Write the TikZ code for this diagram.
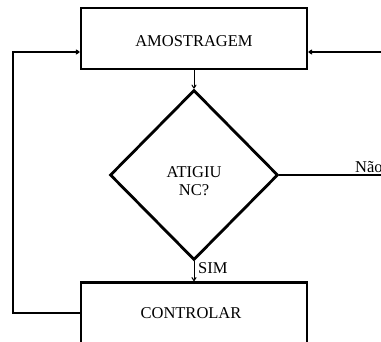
\documentclass[tikz,border=0pt]{standalone}
\usepackage{fontspec}
\setmainfont{Liberation Serif}
\usetikzlibrary{shapes.geometric,arrows.meta}
\begin{document}
\begin{tikzpicture}[x=1pt,y=-1pt,
  box/.style={draw,line width=2.8pt,minimum width=226pt,minimum height=61pt,inner sep=0pt},
  dec/.style={draw,diamond,line width=2.8pt,minimum width=168pt,minimum height=170pt,inner sep=0pt},
  conn/.style={line width=1pt,-{To[length=4pt,width=5pt]}},
  lab/.style={font=\fontsize{16.5}{18}\selectfont,inner sep=0pt}]
\useasboundingbox (0,0) rectangle (381,341);
\clip (0,0) rectangle (381,341);
\node[box] (amo) at (194,38.5) {};
\node[lab] (amot) at (194,41) {AMOSTRAGEM};
\node[dec] (dia) at (194,175) {};
\node[lab,align=center] (diat) at (194,181) {ATIGIU\\NC?};
\node[box] (ctl) at (194,313) {};
\node[lab] (ctlt) at (191,313) {CONTROLAR};
\coordinate (rin) at (390,52);
\coordinate (rout) at (390,175);
\coordinate (lc) at (13,52);
\draw[conn] (amo.south) -- (dia.north);
\draw[conn] (dia.south) -- (ctl.north);
\draw[conn,line width=1.4pt] (rin) -- (rin -| amo.east);
\draw[line width=1.4pt] (dia.east) -- (rout);
\draw[conn,line width=1.4pt] (ctl.west) -| (lc) -- (lc -| amo.west);
\node[lab,anchor=south west] (nao) at (355,173) {Não};
\node[lab,anchor=west] (sim) at (198,268) {SIM};
\end{tikzpicture}
\end{document}
